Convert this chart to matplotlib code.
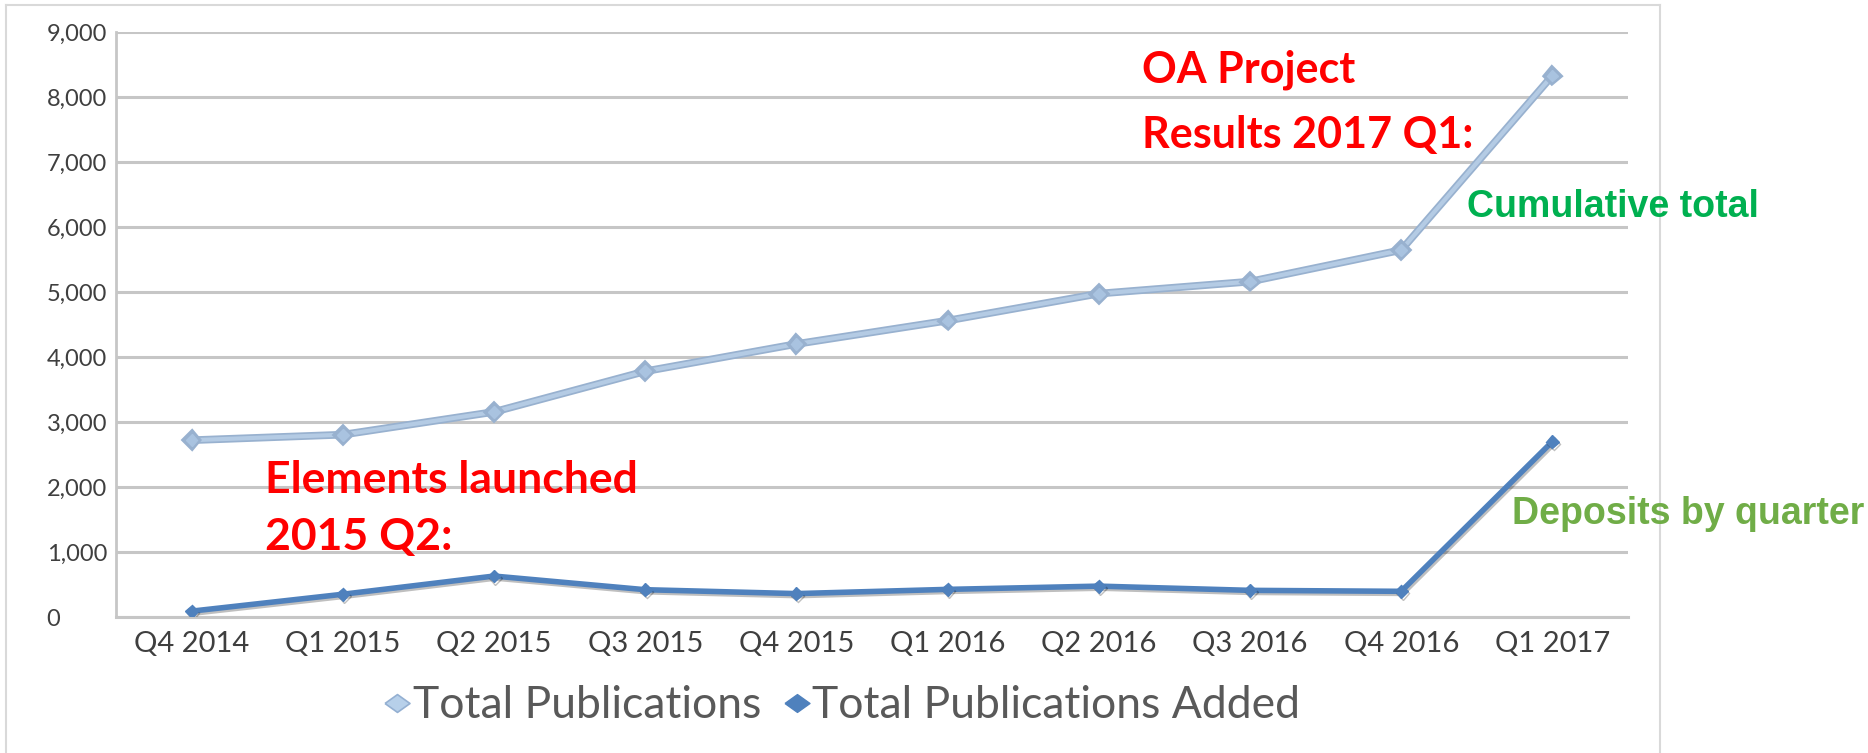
import matplotlib
matplotlib.use('Agg')
import matplotlib.pyplot as plt
import matplotlib.patheffects as pe
from matplotlib.lines import Line2D

quarters = ['Q4 2014', 'Q1 2015', 'Q2 2015', 'Q3 2015', 'Q4 2015',
            'Q1 2016', 'Q2 2016', 'Q3 2016', 'Q4 2016', 'Q1 2017']
total_pubs = [2720, 2805, 3155, 3780, 4200, 4560, 4975, 5160, 5645, 8330]
pubs_added = [90, 350, 630, 420, 360, 425, 475, 410, 395, 2700]
y_ticks = [0, 1000, 2000, 3000, 4000, 5000, 6000, 7000, 8000, 9000]

W, H = 1868, 753
fig = plt.figure(figsize=(W / 100, H / 100), dpi=100)
fig.patch.set_facecolor('white')

# chart frame (excel style border)
fc = '#d9d9d9'
fig.add_artist(Line2D([6 / W, 6 / W], [0, 1 - 5 / H], color=fc, lw=1.5))
fig.add_artist(Line2D([6 / W, 1660 / W], [1 - 5 / H, 1 - 5 / H], color=fc, lw=1.5))
fig.add_artist(Line2D([1660 / W, 1660 / W], [0, 1 - 5 / H], color=fc, lw=1.5))

ax = fig.add_axes([116 / W, 1 - 617 / H, (1628 - 116) / W, (617 - 32) / H])
x = list(range(len(quarters)))

grid_c = '#c6c6c6'
ax.set_ylim(0, 9000)
ax.set_xlim(-0.5, len(quarters) - 0.5)
ax.set_yticks(y_ticks)
ax.set_yticklabels(['{:,}'.format(v) for v in y_ticks])
ax.yaxis.grid(True, color=grid_c, lw=2.2)
ax.set_axisbelow(True)
for s in ['top', 'right']:
    ax.spines[s].set_visible(False)
ax.spines['left'].set_color(grid_c)
ax.spines['left'].set_linewidth(2)
ax.spines['bottom'].set_color(grid_c)
ax.spines['bottom'].set_linewidth(2.2)

ax.set_xticks(x)
ax.set_xticklabels(quarters)
ax.tick_params(axis='x', length=0, pad=10, labelsize=21, labelcolor='#3f3f3f')
ax.tick_params(axis='y', length=0, pad=50, labelsize=17, labelcolor='#3f3f3f')
for t in ax.get_xticklabels() + ax.get_yticklabels():
    t.set_family('Lato')
for t in ax.get_yticklabels():
    t.set_horizontalalignment('left')

ax.plot(x, total_pubs, color='#b4cbe4', lw=3, marker='D', ms=6,
        mfc='#a9c3e0', mec='#a9c3e0',
        path_effects=[pe.Stroke(linewidth=5.5, foreground='#98b1cf'), pe.Normal()],
        zorder=3)
ax.plot(x, pubs_added, color='#4f81bd', lw=4, marker='D', ms=6.5,
        mfc='#4f81bd', mec='#4f81bd', zorder=3,
        path_effects=[pe.SimpleLineShadow(offset=(1, -1.5), alpha=0.25), pe.Normal()])

# annotations
def ftext(px, py, s, **kw):
    fig.text(px / W, 1 - py / H, s, va='baseline', ha='left', **kw)

ftext(1142, 83, 'OA Project', color='#ff0000', fontsize=31, fontweight='bold', family='Lato')
ftext(1142, 148, 'Results 2017 Q1:', color='#ff0000', fontsize=31, fontweight='bold', family='Lato')
ftext(265, 493, 'Elements launched', color='#ff0000', fontsize=32, fontweight='bold', family='Lato')
ftext(265, 550, '2015 Q2:', color='#ff0000', fontsize=32, fontweight='bold', family='Lato')
ftext(1467, 217, 'Cumulative total', color='#00b050', fontsize=27,
      fontweight='bold', family='Liberation Sans')
ftext(1512, 524, 'Deposits by quarter', color='#70ad47', fontsize=27,
      fontweight='bold', family='Liberation Sans')

# legend
wide_d = [(-1.4, 0), (0, 1), (1.4, 0), (0, -1), (-1.4, 0)]
handles = [
    Line2D([], [], ls='none', marker=wide_d, ms=18, mfc='#b7d0ea', mec='#94b0d2', mew=1.2),
    Line2D([], [], ls='none', marker=wide_d, ms=18, mfc='#4f81bd', mec='#4f81bd'),
]
leg = fig.legend(handles, ['Total Publications', 'Total Publications Added'],
                 loc='center', bbox_to_anchor=(842 / W, 1 - 706 / H), ncol=2,
                 frameon=False, handlelength=0.6, handletextpad=0.05,
                 columnspacing=0.5, prop={'family': 'Lato', 'size': 32})
for t in leg.get_texts():
    t.set_color('#595959')

fig.savefig('out.png', dpi=100)
